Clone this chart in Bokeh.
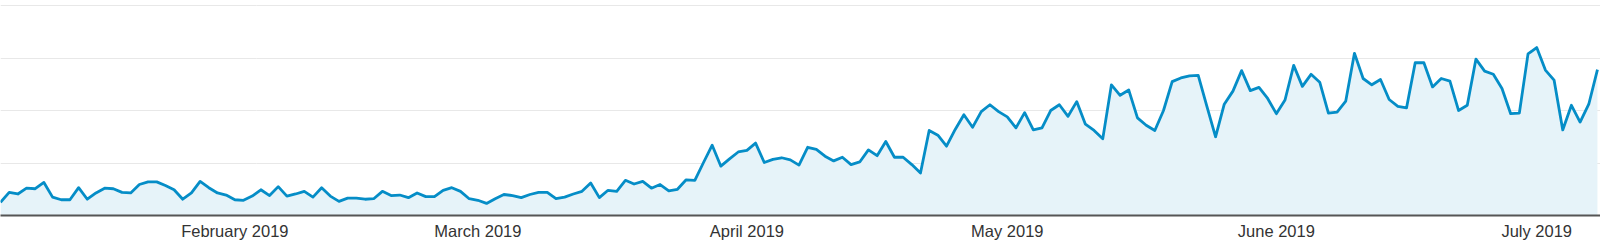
import datetime as dt
import numpy as np
from bokeh.plotting import figure
from bokeh.models import Range1d, FixedTicker, Div
from bokeh.layouts import column
from bokeh.embed import file_html
from bokeh.resources import INLINE

start_date = dt.date(2019, 1, 5)

sessions = [
    25, 44, 41, 52, 51, 63, 35, 30, 30, 53,
    31, 43, 52, 51, 44, 43, 59, 64, 64, 57,
    49, 31, 43, 65, 53, 43, 39, 30, 29, 37,
    49, 38, 55, 37, 41, 46, 35, 53, 37, 27,
    33, 33, 31, 32, 46, 38, 39, 34, 43, 36,
    36, 48, 53, 46, 32, 29, 23, 32, 40, 38,
    34, 40, 44, 44, 32, 35, 41, 46, 62, 34,
    48, 46, 67, 60, 65, 52, 59, 47, 50, 68,
    67, 101, 134, 94, 108, 121, 124, 138, 101, 107,
    110, 106, 96, 130, 126, 113, 104, 111, 97, 102,
    125, 114, 141, 111, 111, 97, 81, 162, 153, 132,
    164, 192, 168, 198, 211, 198, 188, 167, 196, 163,
    167, 200, 211, 189, 217, 174, 162, 146, 249, 229,
    239, 186, 172, 162, 200, 255, 262, 266, 267, 208,
    150, 212, 237, 276, 238, 244, 223, 194, 220, 286,
    246, 269, 254, 195, 197, 218, 309, 261, 249, 259,
    221, 208, 205, 291, 291, 245, 261, 256, 200, 210,
    298, 275, 269, 242, 194, 195, 308, 320, 277, 258,
    163, 210, 178, 212, 278,
]

month_starts = [dt.date(2019, m, 1) for m in range(2, 8)]
month_labels = ["February 2019", "March 2019", "April 2019",
                "May 2019", "June 2019", "July 2019"]
grid_values = [100, 200, 300, 400]

x = np.arange(len(sessions))
tick_pos = [(d - start_date).days for d in month_starts]

p = figure(width=1600, height=246, output_backend="svg", toolbar_location=None,
           x_range=Range1d(0, 184.35), y_range=Range1d(0, 402),
           y_axis_location=None,
           min_border_left=0, min_border_right=0, min_border_top=4, min_border_bottom=31)
p.outline_line_color = None
p.background_fill_color = "white"
p.border_fill_color = "white"
p.xgrid.visible = False
p.ygrid.ticker = FixedTicker(ticks=grid_values)
p.ygrid.grid_line_color = "#e8e8e8"
p.ygrid.grid_line_width = 1

p.varea(x=x, y1=0, y2=sessions, fill_color="#e6f3f9")
p.line(x=x, y=sessions, line_color="#058dc7", line_width=2.8, line_join="round")

ax = p.xaxis[0]
ax.ticker = FixedTicker(ticks=tick_pos)
ax.major_label_overrides = {pos: lab for pos, lab in zip(tick_pos, month_labels)}
ax.major_tick_line_color = None
ax.major_tick_out = 0
ax.major_tick_in = 0
ax.minor_tick_line_color = None
ax.axis_line_color = "#555555"
ax.axis_line_width = 2
ax.major_label_text_font = "Liberation Sans"
ax.major_label_text_font_size = "16.5px"
ax.major_label_text_color = "#333333"
ax.major_label_standoff = 6

band = Div(text="", width=1600, height=5,
           styles={"background-color": "#e2e2e2"})

layout = column(p, band, spacing=0)
open("out.html", "w").write(file_html(layout, INLINE))
